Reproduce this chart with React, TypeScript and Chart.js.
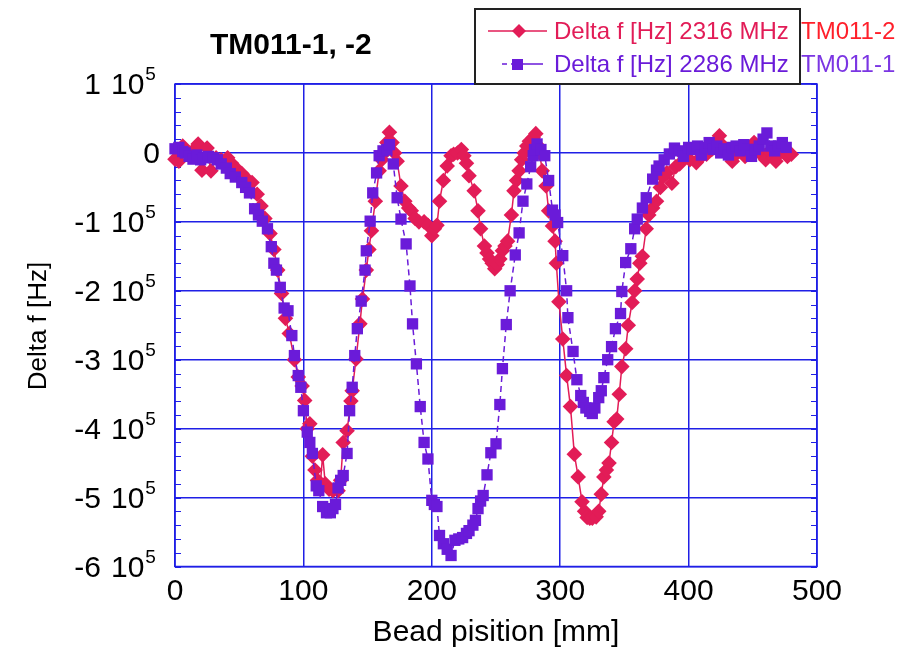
import React, { useEffect, useRef } from "react";
import { Chart, registerables } from "chart.js";

Chart.register(...registerables);

// ---- data (bead position in mm, frequency shift in Hz) ----
const redPos = [0,3,6,9,12,15,18,21,25,28,32,36,41,44,48,52,56,60,64,67,70,74,77,80,83,86,89,93,96,99,101,103,105,107,109,111,113,115,117,120,123,127,129,131,134,137,138,141,144,146,149,151,153,156,159,161,163,165,167,169,171,173,176,179,182,184,187,190,194,197,200,202,204,206,209,212,215,217,220,223,225,227,229,233,236,238,241,243,245,247,249,251,253,255,257,259,262,264,266,268,270,272,274,276,279,281,283,284,286,289,291,294,296,297,299,302,305,308,311,314,317,319,321,323,325,328,330,332,334,336,338,340,342,344,346,348,351,353,356,358,360,362,364,367,369,372,375,378,380,383,387,390,393,397,401,406,410,414,418,421,424,427,431,434,437,441,444,447,451,454,457,460,463,466,468,471,474,477,480];
const redDf = [-9000,-12000,10000,2000,-3000,5000,13000,-25000,7000,-26000,-7000,-10000,-7000,-15000,-23000,-30000,-38000,-43000,-60000,-77000,-95000,-117000,-140000,-170000,-204000,-240000,-262000,-300000,-325000,-338000,-359000,-400000,-393000,-440000,-460000,-475000,-485000,-438000,-480000,-488000,-490000,-490000,-475000,-420000,-403000,-360000,-345000,-299000,-248000,-212000,-170000,-140000,-113000,-70000,-26000,-10000,0,15000,30000,15000,0,-12000,-48000,-70000,-80000,-84000,-95000,-100000,-100000,-105000,-120000,-110000,-105000,-70000,-40000,-19000,-4000,-2000,0,5000,-4000,-15000,-33000,-55000,-84000,-110000,-135000,-145000,-154000,-160000,-168000,-162000,-154000,-142000,-135000,-128000,-90000,-55000,-40000,-26000,-10000,0,10000,17000,22000,28000,10000,0,-26000,-48000,-84000,-106000,-128000,-160000,-216000,-270000,-323000,-368000,-437000,-470000,-506000,-520000,-529000,-530000,-530000,-528000,-520000,-495000,-470000,-460000,-450000,-420000,-390000,-386000,-350000,-310000,-284000,-250000,-217000,-200000,-183000,-160000,-150000,-110000,-90000,-80000,-70000,-50000,-35000,-29000,-44000,-20000,-16000,-5000,-10000,-14000,-5000,-2000,5000,15000,25000,10000,0,-12000,-2000,3000,-5000,0,15000,5000,-3000,-10000,2000,-7000,-12000,0,5000,-5000,-2000];

const purplePos = [0,3,6,8,11,14,17,20,22,26,30,33,36,40,43,47,52,55,58,62,65,68,72,75,77,79,82,85,88,91,93,96,98,100,103,105,107,110,112,115,118,121,123,125,127,129,131,134,136,138,140,142,145,148,149,152,154,157,159,162,165,167,170,173,176,180,183,185,188,191,194,197,200,202,204,206,209,212,215,218,221,224,227,229,232,234,236,238,240,243,246,250,253,255,258,261,265,268,271,274,277,279,280,282,285,288,291,294,296,298,302,305,306,310,313,316,318,320,323,325,327,330,332,334,337,340,343,347,348,351,355,358,360,364,367,372,375,377,381,385,389,393,396,400,403,407,410,413,416,419,422,425,428,431,434,437,440,443,446,449,452,455,458,461,464,467,470,473,476];
const purpleDf = [6000,8000,2000,0,-5000,-9000,-3000,-10000,-7000,-5000,-7000,-10000,-16000,-22000,-30000,-35000,-43000,-50000,-58000,-81000,-90000,-99000,-110000,-136000,-160000,-170000,-195000,-225000,-229000,-265000,-294000,-323000,-340000,-374000,-405000,-420000,-436000,-483000,-490000,-513000,-522000,-522000,-516000,-510000,-486000,-475000,-468000,-436000,-374000,-340000,-294000,-255000,-215000,-170000,-142000,-99000,-58000,-29000,-4000,3000,5000,12000,-16000,-65000,-96000,-132000,-193000,-248000,-306000,-368000,-420000,-444000,-504000,-510000,-513000,-555000,-567000,-575000,-584000,-562000,-560000,-558000,-552000,-548000,-540000,-533000,-516000,-505000,-497000,-467000,-435000,-422000,-365000,-313000,-249000,-200000,-148000,-116000,-70000,-45000,-20000,-4000,5000,13000,5000,-4000,-40000,-83000,-90000,-101000,-149000,-200000,-239000,-288000,-329000,-352000,-362000,-370000,-375000,-378000,-370000,-355000,-345000,-326000,-300000,-281000,-255000,-233000,-201000,-159000,-139000,-110000,-96000,-80000,-65000,-38000,-25000,-19000,-10000,-1500,7000,3000,-5000,8000,5000,10000,-3000,8000,15000,5000,10000,0,6000,-3000,8000,10000,3000,12000,5000,-5000,5000,10000,20000,29000,10000,3000,10000,15000,8000];

const xTickValues = [0, 100, 200, 300, 400, 500];
const yTickMantissas = [1, 0, -1, -2, -3, -4, -5, -6];
const yTickExponent = 5;
const yMinorStep = 20000;

const chartTitle = "TM011-1, -2";
const xTitle = "Bead pisition [mm]";
const yTitle = "Delta f [Hz]";
const legendLabels = ["Delta f [Hz] 2316 MHz", "Delta f [Hz] 2286 MHz"];
const sideLabels = ["TM011-2", "TM011-1"];

// ---- styles ----
const RED = "#e21c57";
const PURPLE = "#6a1bd9";
const RED_SIDE = "#ff1f2a";
const PURPLE_SIDE = "#7b35e3";
const GRID = "#1f1fe6";
const FONT = '"Liberation Sans", Arial, sans-serif';

const decorPlugin = {
  id: "decor",
  beforeDatasetsDraw(chart: any) {
    const { ctx, chartArea: a, scales } = chart;
    ctx.save();
    ctx.strokeStyle = GRID;
    ctx.lineWidth = 1.5;
    ctx.strokeRect(a.left, a.top, a.right - a.left, a.bottom - a.top);
    const ys = scales.y;
    ctx.lineWidth = 1.2;
    for (let v = ys.min; v <= ys.max + 1; v += yMinorStep) {
      const y = Math.round(ys.getPixelForValue(v)) + 0.5;
      ctx.beginPath();
      ctx.moveTo(a.left, y);
      ctx.lineTo(a.left + 6, y);
      ctx.moveTo(a.right - 6, y);
      ctx.lineTo(a.right, y);
      ctx.stroke();
    }
    ctx.restore();
  },
  afterDraw(chart: any) {
    const { ctx, chartArea: a, scales } = chart;
    ctx.save();
    ctx.fillStyle = "#000";
    // x tick labels
    ctx.font = `30px ${FONT}`;
    ctx.textAlign = "center";
    ctx.textBaseline = "middle";
    for (const v of xTickValues) {
      ctx.fillText(String(v), scales.x.getPixelForValue(v), 592);
    }
    // y tick labels
    for (const m of yTickMantissas) {
      const y = scales.y.getPixelForValue(m * Math.pow(10, yTickExponent)) + 2;
      ctx.font = `30px ${FONT}`;
      if (m === 0) {
        ctx.textAlign = "right";
        ctx.fillText("0", 160, y);
        continue;
      }
      ctx.textAlign = "right";
      ctx.fillText(String(m), 101, y);
      ctx.textAlign = "left";
      ctx.fillText("10", 111, y);
      const w10 = ctx.measureText("10").width;
      ctx.font = `19px ${FONT}`;
      ctx.fillText(String(yTickExponent), 111 + w10 + 1, y - 11);
    }
    // axis titles
    ctx.font = `30px ${FONT}`;
    ctx.textAlign = "center";
    ctx.fillText(xTitle, (a.left + a.right) / 2, 633);
    ctx.save();
    ctx.translate(39, 326);
    ctx.rotate(-Math.PI / 2);
    ctx.font = `26px ${FONT}`;
    ctx.fillText(yTitle, 0, 0);
    ctx.restore();
    // title
    ctx.font = `bold 30px ${FONT}`;
    ctx.textAlign = "left";
    ctx.fillText(chartTitle, 210, 46);
    // legend box
    ctx.fillStyle = "#fff";
    ctx.fillRect(475, 9, 325, 75);
    ctx.strokeStyle = "#222";
    ctx.lineWidth = 2;
    ctx.strokeRect(475, 9, 325, 75);
    // row 1
    ctx.strokeStyle = RED;
    ctx.lineWidth = 1.5;
    ctx.beginPath();
    ctx.moveTo(488, 31);
    ctx.lineTo(547, 31);
    ctx.stroke();
    ctx.fillStyle = RED;
    ctx.beginPath();
    ctx.moveTo(519, 24);
    ctx.lineTo(526, 31);
    ctx.lineTo(519, 38);
    ctx.lineTo(512, 31);
    ctx.closePath();
    ctx.fill();
    // row 2
    ctx.strokeStyle = PURPLE;
    ctx.beginPath();
    ctx.moveTo(502, 64);
    ctx.lineTo(507, 64);
    ctx.moveTo(511, 64);
    ctx.lineTo(543, 64);
    ctx.stroke();
    ctx.fillStyle = PURPLE;
    ctx.fillRect(512, 59, 11, 11);
    ctx.font = `24px ${FONT}`;
    ctx.textAlign = "left";
    ctx.fillStyle = RED;
    ctx.fillText(legendLabels[0], 554, 32);
    ctx.fillStyle = PURPLE;
    ctx.fillText(legendLabels[1], 554, 65);
    ctx.fillStyle = RED_SIDE;
    ctx.fillText(sideLabels[0], 801, 32);
    ctx.fillStyle = PURPLE_SIDE;
    ctx.fillText(sideLabels[1], 801, 65);
    ctx.restore();
  },
};

export default function App() {
  const ref = useRef<HTMLCanvasElement | null>(null);
  useEffect(() => {
    if (!ref.current) return;
    const chart = new Chart(ref.current, {
      type: "scatter",
      data: {
        datasets: [
          {
            label: legendLabels[1],
            data: purplePos.map((x, i) => ({ x, y: purpleDf[i] })),
            showLine: true,
            borderColor: PURPLE,
            backgroundColor: PURPLE,
            borderWidth: 1.5,
            borderDash: [6, 4],
            pointStyle: "rect",
            pointRadius: 8,
            pointBorderWidth: 0,
            clip: false,
          } as any,
          {
            label: legendLabels[0],
            data: redPos.map((x, i) => ({ x, y: redDf[i] })),
            showLine: true,
            borderColor: RED,
            backgroundColor: RED,
            borderWidth: 1.5,
            pointStyle: "rectRot",
            pointRadius: 7.8,
            pointBorderWidth: 0,
            clip: false,
          } as any,
        ],
      },
      options: {
        responsive: false,
        animation: false,
        devicePixelRatio: 1,
        layout: { padding: { left: 175, right: 90, top: 84, bottom: 84.5 } },
        plugins: {
          legend: { display: false },
          tooltip: { enabled: false },
          title: { display: false },
        },
        scales: {
          x: {
            type: "linear",
            min: 0,
            max: 500,
            ticks: { display: false, stepSize: 100 },
            grid: { color: GRID, lineWidth: 1.5, drawTicks: false },
            border: { display: false },
            afterFit: (s: any) => { s.height = 0; },
          },
          y: {
            type: "linear",
            min: -600000,
            max: 100000,
            ticks: { display: false, stepSize: 100000 },
            grid: { color: GRID, lineWidth: 1.5, drawTicks: false },
            border: { display: false },
            afterFit: (s: any) => { s.width = 0; },
          },
        },
      } as any,
      plugins: [decorPlugin],
    });
    return () => chart.destroy();
  }, []);
  return (
    <div style={{ position: "fixed", left: 0, top: 0, width: 907, height: 651, background: "#fff" }}>
      <canvas ref={ref} width={907} height={651} style={{ display: "block" }} />
    </div>
  );
}
